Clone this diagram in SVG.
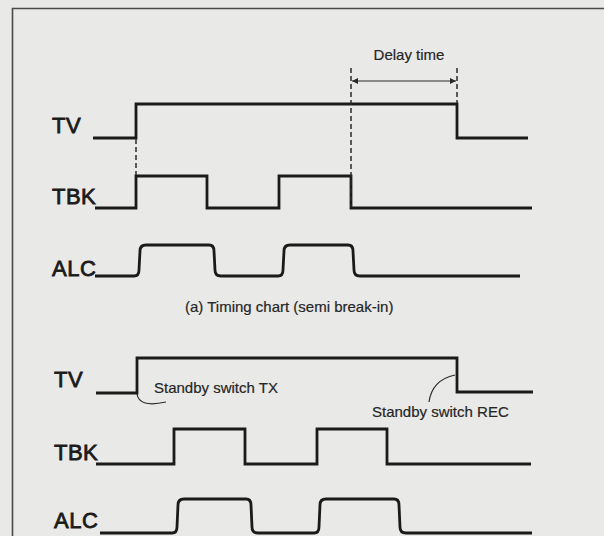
<svg xmlns="http://www.w3.org/2000/svg" width="604" height="536" viewBox="0 0 604 536">
  <defs>
    <style>
      .sig { fill: none; stroke: #1a1a1a; stroke-width: 2.8; stroke-linejoin: miter; stroke-linecap: butt; }
      .lbl { font-family: "Liberation Sans", Arial, sans-serif; font-size: 22px; fill: #1a1a1a; stroke: #1a1a1a; stroke-width: 0.8; letter-spacing: 0.5px; }
      .txt { font-family: "Liberation Sans", Arial, sans-serif; font-size: 15px; fill: #262626; stroke: #262626; stroke-width: 0.2; }
      .dash { fill: none; stroke: #2a2a2a; stroke-width: 1.5; stroke-dasharray: 5 3; }
      .thin { fill: none; stroke: #2a2a2a; stroke-width: 1.2; }
      .frame { fill: none; stroke: #4a4a4a; stroke-width: 1.6; }
    </style>
    <marker id="ah" viewBox="0 0 10 10" refX="10" refY="5" markerWidth="9" markerHeight="6" markerUnits="userSpaceOnUse" orient="auto-start-reverse">
      <path d="M0,0 L10,5 L0,10 z" fill="#2a2a2a"/>
    </marker>
  </defs>
  <rect x="0" y="0" width="604" height="536" fill="#e9e9e7"/>
  <g id="frame">
    <path class="frame" d="M12.5,536 L12.5,8.5 L604,8.5"/>
  </g>

  <!-- Chart (a) -->
  <g id="top-tv">
    <text class="lbl" x="52" y="133">TV</text>
    <path class="sig" d="M93,138 L136,138 L136,104 L457,104 L457,138 L528,138"/>
  </g>
  <g id="top-tbk">
    <text class="lbl" x="52" y="204">TBK</text>
    <path class="sig" d="M95,208 L136,208 L136,176 L207,176 L207,208 L279,208 L279,176 L351,176 L351,208 L532,208"/>
  </g>
  <g id="top-alc">
    <text class="lbl" x="52" y="276">ALC</text>
    <path class="sig" d="M95,276 L134,276 Q139,276 139,270 L140,251 Q140,245 146,245 L209,245 Q214,245 214,251 L215,270 Q215,276 221,276 L278,276 Q283,276 283,270 L284,251 Q284,245 290,245 L348,245 Q353,245 353,251 L354,270 Q354,276 360,276 L520,276"/>
  </g>
  <g id="delay-time">
    <text class="txt" x="409" y="60" text-anchor="middle">Delay time</text>
  </g>
  <g id="connectors">
    <path class="dash" d="M136,139 L136,175"/>
    <path class="dash" d="M351,68 L351,207"/>
    <path class="dash" d="M457,68 L457,103"/>
    <path class="thin" d="M352,81 L456,81" marker-start="url(#ah)" marker-end="url(#ah)"/>
    <path class="thin" d="M137,394 Q139,408 166,402"/>
    <path class="thin" d="M429,402 Q432,380 455,375"/>
  </g>
  <g id="caption">
    <text class="txt" x="185" y="312">(a) Timing chart (semi break-in)</text>
  </g>

  <!-- Chart (b) -->
  <g id="bot-tv">
    <text class="lbl" x="54" y="387">TV</text>
    <path class="sig" d="M96,393 L137,393 L137,358 L457,358 L457,392 L533,392"/>
  </g>
  <g id="standby-tx">
    <text class="txt" x="154" y="393">Standby switch TX</text>
  </g>
  <g id="standby-rec">
    <text class="txt" x="372" y="417">Standby switch REC</text>
  </g>
  <g id="bot-tbk">
    <text class="lbl" x="54" y="460">TBK</text>
    <path class="sig" d="M96,464 L174,464 L174,429 L245,429 L245,464 L317,464 L317,429 L387,429 L387,464 L531,464"/>
  </g>
  <g id="bot-alc">
    <text class="lbl" x="54" y="528">ALC</text>
    <path class="sig" d="M100,533 L172,533 Q177,533 177,527 L178,505 Q178,499 184,499 L246,499 Q251,499 251,505 L252,527 Q252,533 258,533 L314,533 Q319,533 319,527 L320,505 Q320,499 326,499 L394,499 Q399,499 399,505 L400,527 Q400,533 406,533 L532,533"/>
  </g>
</svg>
